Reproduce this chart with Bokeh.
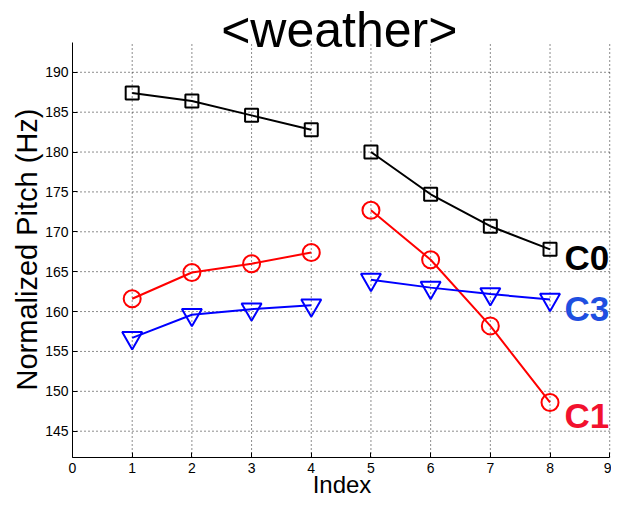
from bokeh.plotting import figure
from bokeh.models import Label, FixedTicker, Title
from bokeh.embed import file_html
from bokeh.resources import INLINE

# ---- data ----
index = [1, 2, 3, 4, 5, 6, 7, 8]
c0 = [187.4, 186.4, 184.6, 182.8, 180.0, 174.7, 170.7, 167.8]
c1 = [161.6, 164.9, 166.0, 167.4, 172.7, 166.5, 158.2, 148.6]
c3 = [156.7, 159.6, 160.3, 160.8, 164.0, 163.0, 162.2, 161.5]
x_ticks = [0, 1, 2, 3, 4, 5, 6, 7, 8, 9]
y_ticks = [145, 150, 155, 160, 165, 170, 175, 180, 185, 190]
title_text = "<weather>"
x_label = "Index"
y_label = "Normalized Pitch (Hz)"
series_labels = ["C0", "C1", "C3"]

FONT = "Liberation Sans"

# axes box (data limits of the drawn axes)
X0, X1 = 0, 9
Y0, Y1 = 141.7, 193.7

p = figure(width=611, height=500, title=None,
           x_range=(X0, 9.03), y_range=(Y0, 199.0),
           output_backend="svg", toolbar_location=None,
           min_border_left=72, min_border_right=0,
           min_border_top=0, min_border_bottom=0)
p.outline_line_color = None
p.background_fill_color = "white"
p.border_fill_color = "white"
p.xgrid.visible = False
p.ygrid.visible = False

for ax in (p.xaxis[0], p.yaxis[0]):
    ax.axis_line_color = "black"
    ax.axis_line_width = 1
    ax.major_tick_in = 5
    ax.major_tick_out = 0
    ax.minor_tick_line_color = None
    ax.major_tick_line_color = "black"
    ax.major_label_text_font = FONT
    ax.major_label_text_font_size = "14px"
    ax.major_label_text_color = "black"
    ax.axis_label_text_font = FONT
    ax.axis_label_text_font_style = "normal"
    ax.axis_label_text_color = "black"

p.xaxis[0].ticker = FixedTicker(ticks=x_ticks)
p.yaxis[0].ticker = FixedTicker(ticks=y_ticks)
p.xaxis[0].bounds = (X0, X1)
p.yaxis[0].bounds = (Y0, Y1)
p.xaxis[0].major_label_standoff = 5
p.yaxis[0].major_label_standoff = 4
p.xaxis[0].axis_label = x_label
p.xaxis[0].axis_label_text_font_size = "24px"
p.xaxis[0].axis_label_standoff = -5

# y label as a side title so it can be placed along the axes box
p.add_layout(Title(text=y_label, align="left", offset=67, standoff=0,
                   vertical_align="bottom", text_font=FONT,
                   text_font_size="29px", text_font_style="normal",
                   text_color="black"), "left")

# dotted grid limited to the axes box
p.segment(x0=x_ticks, y0=[Y0] * len(x_ticks), x1=x_ticks, y1=[Y1] * len(x_ticks),
          line_color="black", line_dash="1 3", line_width=1, line_alpha=0.9)
p.segment(x0=[X0] * len(y_ticks), y0=y_ticks, x1=[X1] * len(y_ticks), y1=y_ticks,
          line_color="black", line_dash="1 3", line_width=1, line_alpha=0.9)

segments = [slice(0, 4), slice(4, 8)]
styles = [
    (c0, "#000000", "square", 13),
    (c1, "#FF0000", "circle", 17),
    (c3, "#0000FF", "inverted_triangle", 20),
]
for ys, col, mk, sz in styles:
    for s in segments:
        p.line(index[s], ys[s], line_color=col, line_width=2)
    p.scatter(index, ys, marker=mk, size=sz, line_color=col,
              fill_color=None, line_width=2)

# title
p.add_layout(Label(x=4.47, y=195.3, text=title_text, text_font=FONT,
                   text_font_size="50px", text_color="black",
                   text_align="center", text_baseline="middle"))

# series labels at the right
label_pos = [(166.75, "#000000"), (146.95, "#F2112E"), (160.36, "#1F4FE0")]
for name, (yc, col) in zip(series_labels, label_pos):
    p.add_layout(Label(x=8.244, y=yc, text=name, text_font=FONT,
                       text_font_size="35px", text_font_style="bold",
                       text_color=col, text_align="left",
                       text_baseline="middle"))

open("out.html", "w").write(file_html(p, INLINE))
